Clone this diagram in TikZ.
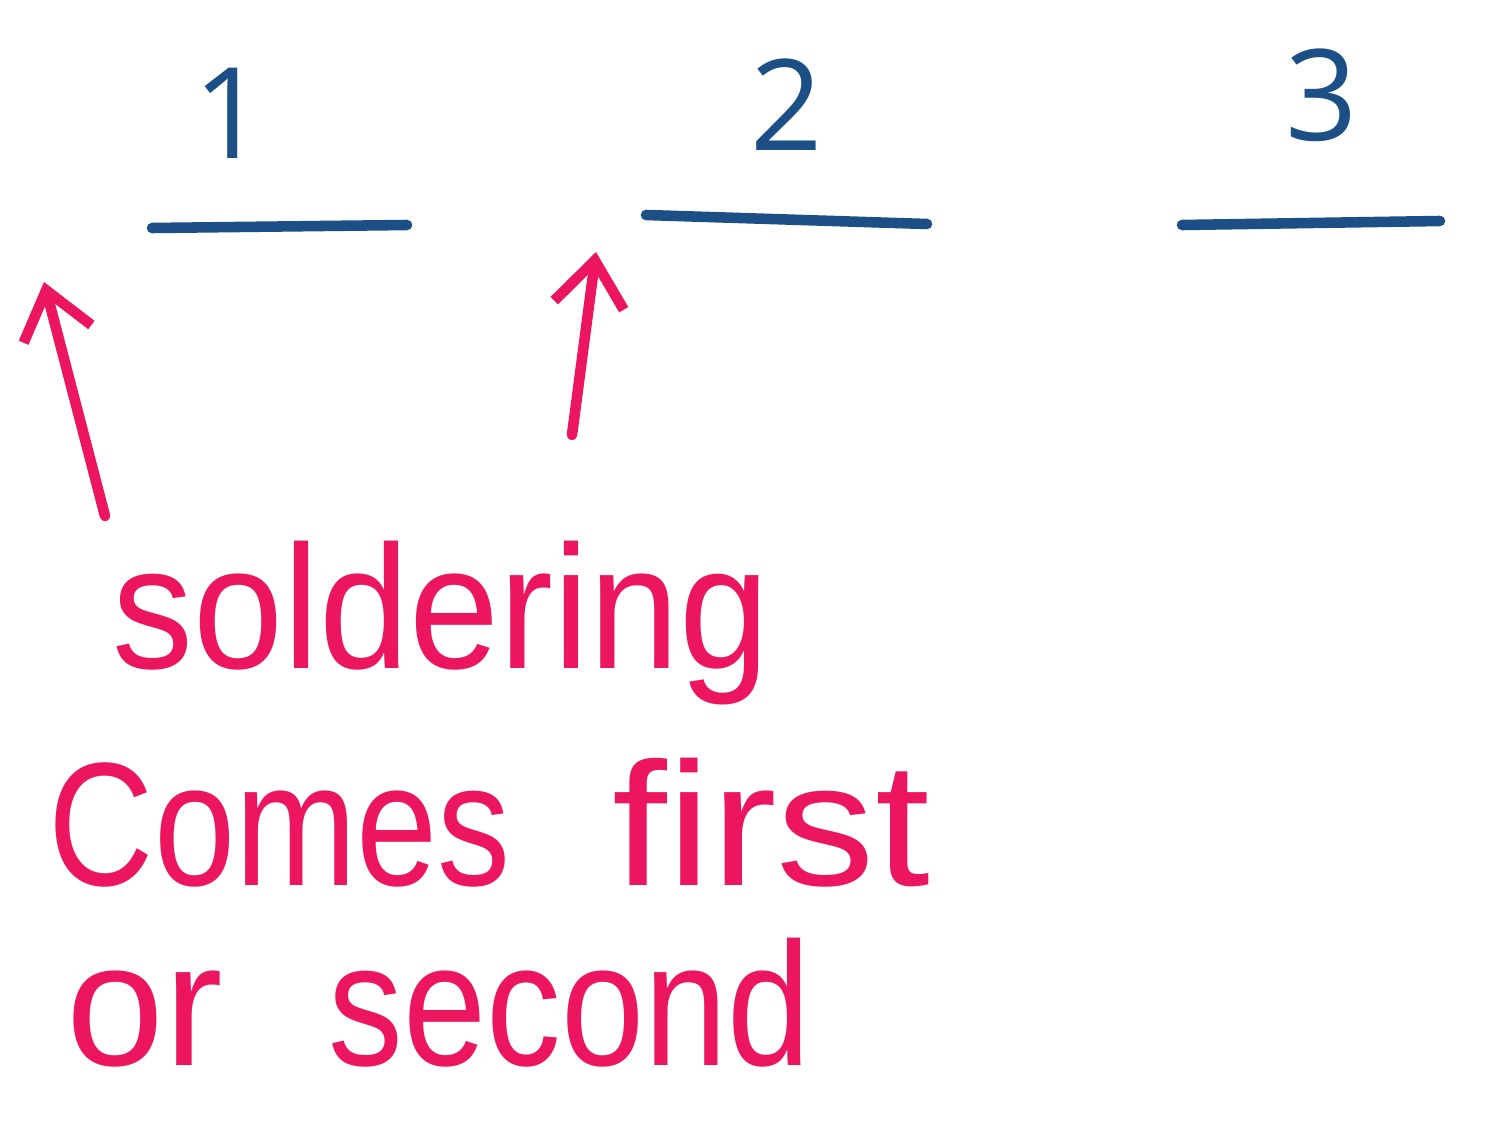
\documentclass[tikz,border=0pt]{standalone}
\usepackage{fontspec}
\setmainfont{Liberation Sans}
\newfontfamily\digitfont{Open Sans}
\usetikzlibrary{arrows.meta}
\definecolor{inkblue}{HTML}{1B4F86}
\definecolor{inkpink}{HTML}{EC1660}
\tikzset{
  num/.style={text=inkblue, font=\digitfont\fontsize{36}{40}\selectfont, inner sep=0pt, anchor=base},
  bar/.style={draw=inkblue, line width=3pt, line cap=round},
  word/.style={text=inkpink, font=\fontsize{50}{52}\selectfont, inner sep=0pt, anchor=base west},
  uparrow/.style={draw=inkpink, line width=3pt, line cap=round, line join=round,
    -{Straight Barb[length=0.45cm,width=0.7cm,line width=3pt]}}
}
\begin{document}
\begin{tikzpicture}[x=0.01cm,y=-0.01cm]
\useasboundingbox (0,0) rectangle (1494,1121);
% numbers
\node[num] (n1) at (230,158) {1};
\node[num] (n2) at (787,150) {2};
\node[num] (n3) at (1322,140) {3};
% blanks
\coordinate (b1s) at (152,228); \coordinate (b1e) at (407,225);
\coordinate (b2s) at (646,215); \coordinate (b2e) at (927,224);
\coordinate (b3s) at (1182,225); \coordinate (b3e) at (1440,221);
\draw[bar] (b1s) -- (b1e);
\draw[bar] (b2s) -- (b2e);
\draw[bar] (b3s) -- (b3e);
% arrows
\coordinate (a1s) at (105,516); \coordinate (a1e) at (44,282);
\coordinate (a2s) at (572,435); \coordinate (a2e) at (596,252);
\draw[uparrow] (a1s) -- (a1e);
\draw[uparrow] (a2s) -- (a2e);
% text
\node[word] (w1) at (112,668) {\scalebox{0.92}[1]{soldering}};
\node[word] (w2) at (48,885) {\scalebox{0.83}[1]{Comes}};
\node[word] (w3) at (612,885) {\scalebox{1.12}[1]{first}};
\node[word] (w4) at (66,1065) {or};
\node[word] (w5) at (328,1065) {\scalebox{0.85}[1]{second}};
\end{tikzpicture}
\end{document}
